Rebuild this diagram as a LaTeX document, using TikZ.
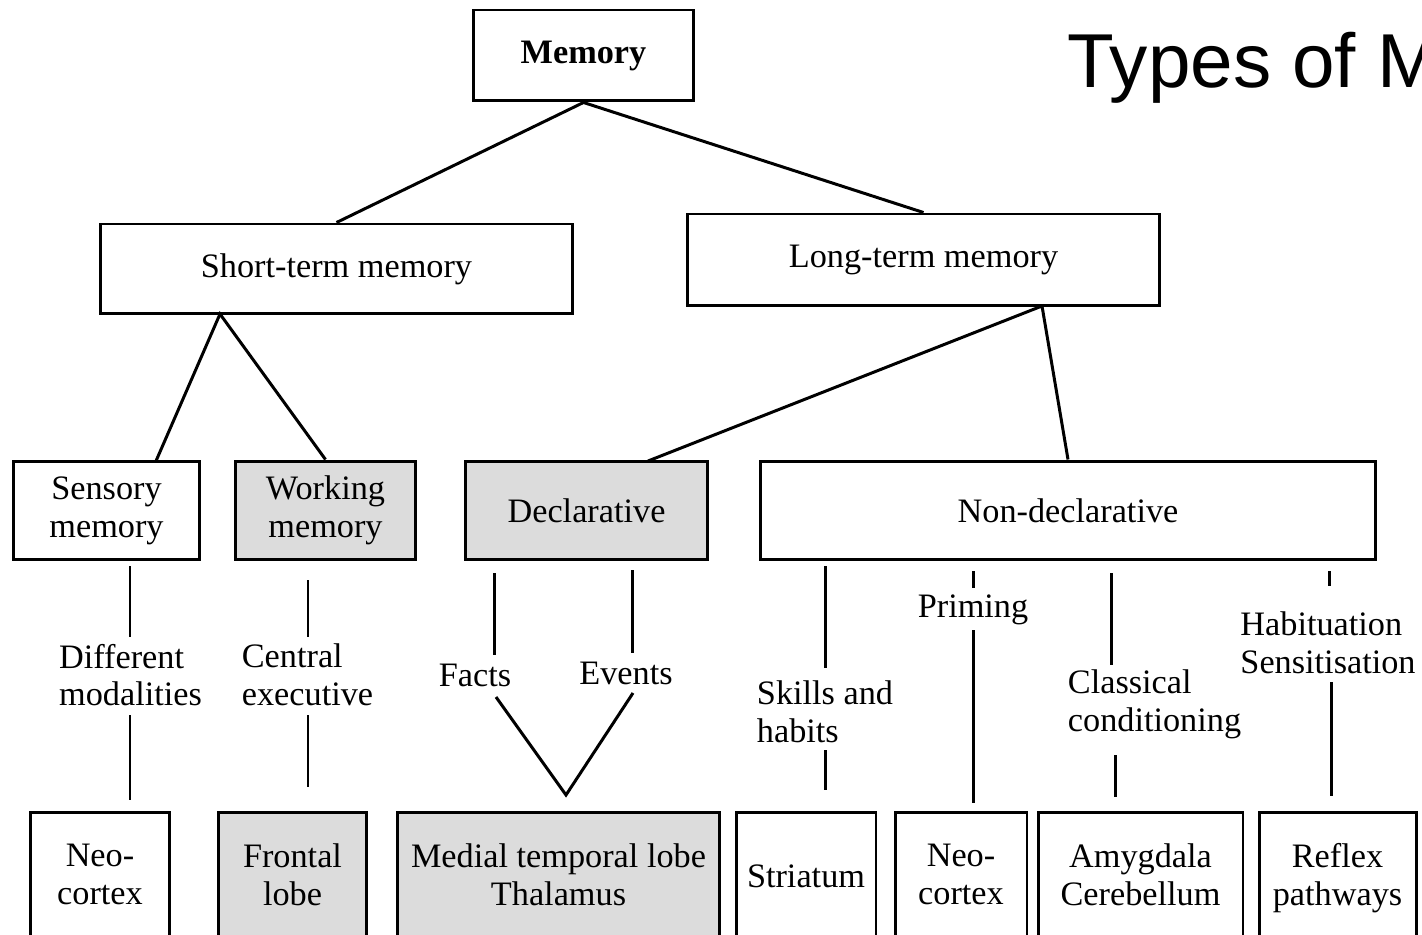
\documentclass[tikz,border=0pt]{standalone}
\usepackage{fontspec}
\setmainfont{Liberation Serif}
\newfontfamily\titlefont{Liberation Sans}
\usepackage{tikz}
\usetikzlibrary{calc}

\definecolor{boxgrey}{RGB}{220,220,220}

\tikzset{
  membox/.style={draw, line width=1.7pt, inner sep=0pt, align=center,
    font=\fontsize{19.5}{21.5}\selectfont},
  greybox/.style={membox, fill=boxgrey},
  lowbox/.style={minimum height=2.72cm, execute at begin node=\strut, execute at end node=\strut},
  lbl/.style={inner sep=0pt, font=\fontsize{19.5}{21.5}\selectfont},
  link/.style={line width=1.7pt}
}

\begin{document}
\begin{tikzpicture}[x=0.02cm, y=-0.02cm]
    \useasboundingbox (0,0) rectangle (1422,935);
    \clip (0,0) rectangle (1422,935);

    % title, cut off at the right edge
    \node[anchor=base west, inner sep=0pt, font=\titlefont\fontsize{43.5}{43.5}\selectfont] (title) at (1067,88) {Types of Memory};

    % top levels
    \node[membox, minimum width=4.42cm, minimum height=1.82cm, font=\bfseries\fontsize{19.5}{21.5}\selectfont] (mem) at (583.5,55.5) {Memory};
    \node[membox, minimum width=9.46cm, minimum height=1.8cm] (stm) at (336.5,269) {Short-term memory};
    \node[membox, minimum width=9.46cm, minimum height=1.84cm] (ltm) at (923.5,260) {Long-term memory};

    \node[membox, minimum width=3.74cm, minimum height=1.98cm] (sens) at (106.5,510.5) {Sensory\\memory};
    \node[greybox, minimum width=3.62cm, minimum height=1.98cm] (work) at (325.5,510.5) {Working\\memory};
    \node[greybox, minimum width=4.86cm, minimum height=1.98cm] (decl) at (586.5,510.5) {Declarative};
    \node[membox, minimum width=12.32cm, minimum height=1.98cm] (nondecl) at (1068,510.5) {Non-declarative};

    % brain areas, bottom row
    \node[membox, lowbox, minimum width=2.8cm] (neoA) at (100,880) {Neo-\\cortex};
    \node[greybox, lowbox, minimum width=2.98cm] (front) at (292.5,880) {Frontal\\lobe};
    \node[greybox, lowbox, minimum width=6.46cm] (medial) at (558.5,880) {Medial temporal lobe\\Thalamus};
    \node[membox, lowbox, minimum width=2.8cm] (stri) at (806,880) {Striatum};
    \node[membox, lowbox, minimum width=2.64cm] (neoB) at (961,880) {Neo-\\cortex};
    \node[membox, lowbox, minimum width=4.1cm] (amyg) at (1140.5,880) {Amygdala\\Cerebellum};
    \node[membox, lowbox, minimum width=3.14cm] (refl) at (1337.5,880) {Reflex\\pathways};

    % labels on the vertical links
    \node[lbl, align=left] (diff) at (130.5,675) {Different\\modalities};
    \node[lbl, align=left] (cent) at (307.5,675) {Central\\executive};
    \node[lbl] (facts) at (475,675) {Facts};
    \node[lbl] (events) at (626,673) {Events};
    \node[lbl, align=left] (skills) at (825,712) {Skills and\\habits};
    \node[lbl] (prim) at (973,610) {Priming};
    \node[lbl, align=left] (class) at (1154.5,704) {Classical\\conditioning};
    \node[lbl, align=left] (habit) at (1328,643) {Habituation\\Sensitisation};

    % tree links
    \coordinate (stm-b) at (220,314);
    \coordinate (sens-t) at (156,461);
    \coordinate (ltm-b) at (1042,306);
    \coordinate (decl-t) at (648,461);
    \draw[link] (stm.north) -- (mem.south) -- (ltm.north);
    \draw[link] (sens-t) -- (stm-b) -- (work.north);
    \draw[link] (decl-t) -- (ltm-b) -- (nondecl.north);

    % vertical links, broken by their labels
    \coordinate (d1) at (130,566);  \coordinate (d2) at (130,637);
    \coordinate (d3) at (130,715);  \coordinate (d4) at (130,800);
    \draw[link] (d1) -- (d2);
    \draw[link] (d3) -- (d4);

    \coordinate (c1) at (308,580);  \coordinate (c2) at (308,637);
    \coordinate (c3) at (308,715);  \coordinate (c4) at (308,787);
    \draw[link] (c1) -- (c2);
    \draw[link] (c3) -- (c4);

    \coordinate (f1) at (494,573);  \coordinate (f2) at (494,655);
    \coordinate (e1) at (632,570);  \coordinate (e2) at (632,653);
    \coordinate (v1) at (496,697);  \coordinate (v2) at (566,795);
    \coordinate (v3) at (633,693);
    \draw[link] (f1) -- (f2);
    \draw[link] (e1) -- (e2);
    \draw[link] (v1) -- (v2) -- (v3);

    \coordinate (s1) at (825,566);  \coordinate (s2) at (825,668);
    \coordinate (s3) at (825,750);  \coordinate (s4) at (825,790);
    \draw[link] (s1) -- (s2);
    \draw[link] (s3) -- (s4);

    \coordinate (p1) at (973,571);  \coordinate (p2) at (973,588);
    \coordinate (p3) at (973,630);  \coordinate (p4) at (973,803);
    \draw[link] (p1) -- (p2);
    \draw[link] (p3) -- (p4);

    \coordinate (k1) at (1111,573); \coordinate (k2) at (1111,665);
    \coordinate (k3) at (1115,755); \coordinate (k4) at (1115,797);
    \draw[link] (k1) -- (k2);
    \draw[link] (k3) -- (k4);

    \coordinate (h1) at (1329,571); \coordinate (h2) at (1329,586);
    \coordinate (h3) at (1331,682); \coordinate (h4) at (1331,796);
    \draw[link] (h1) -- (h2);
    \draw[link] (h3) -- (h4);
  \end{tikzpicture}
\end{document}
